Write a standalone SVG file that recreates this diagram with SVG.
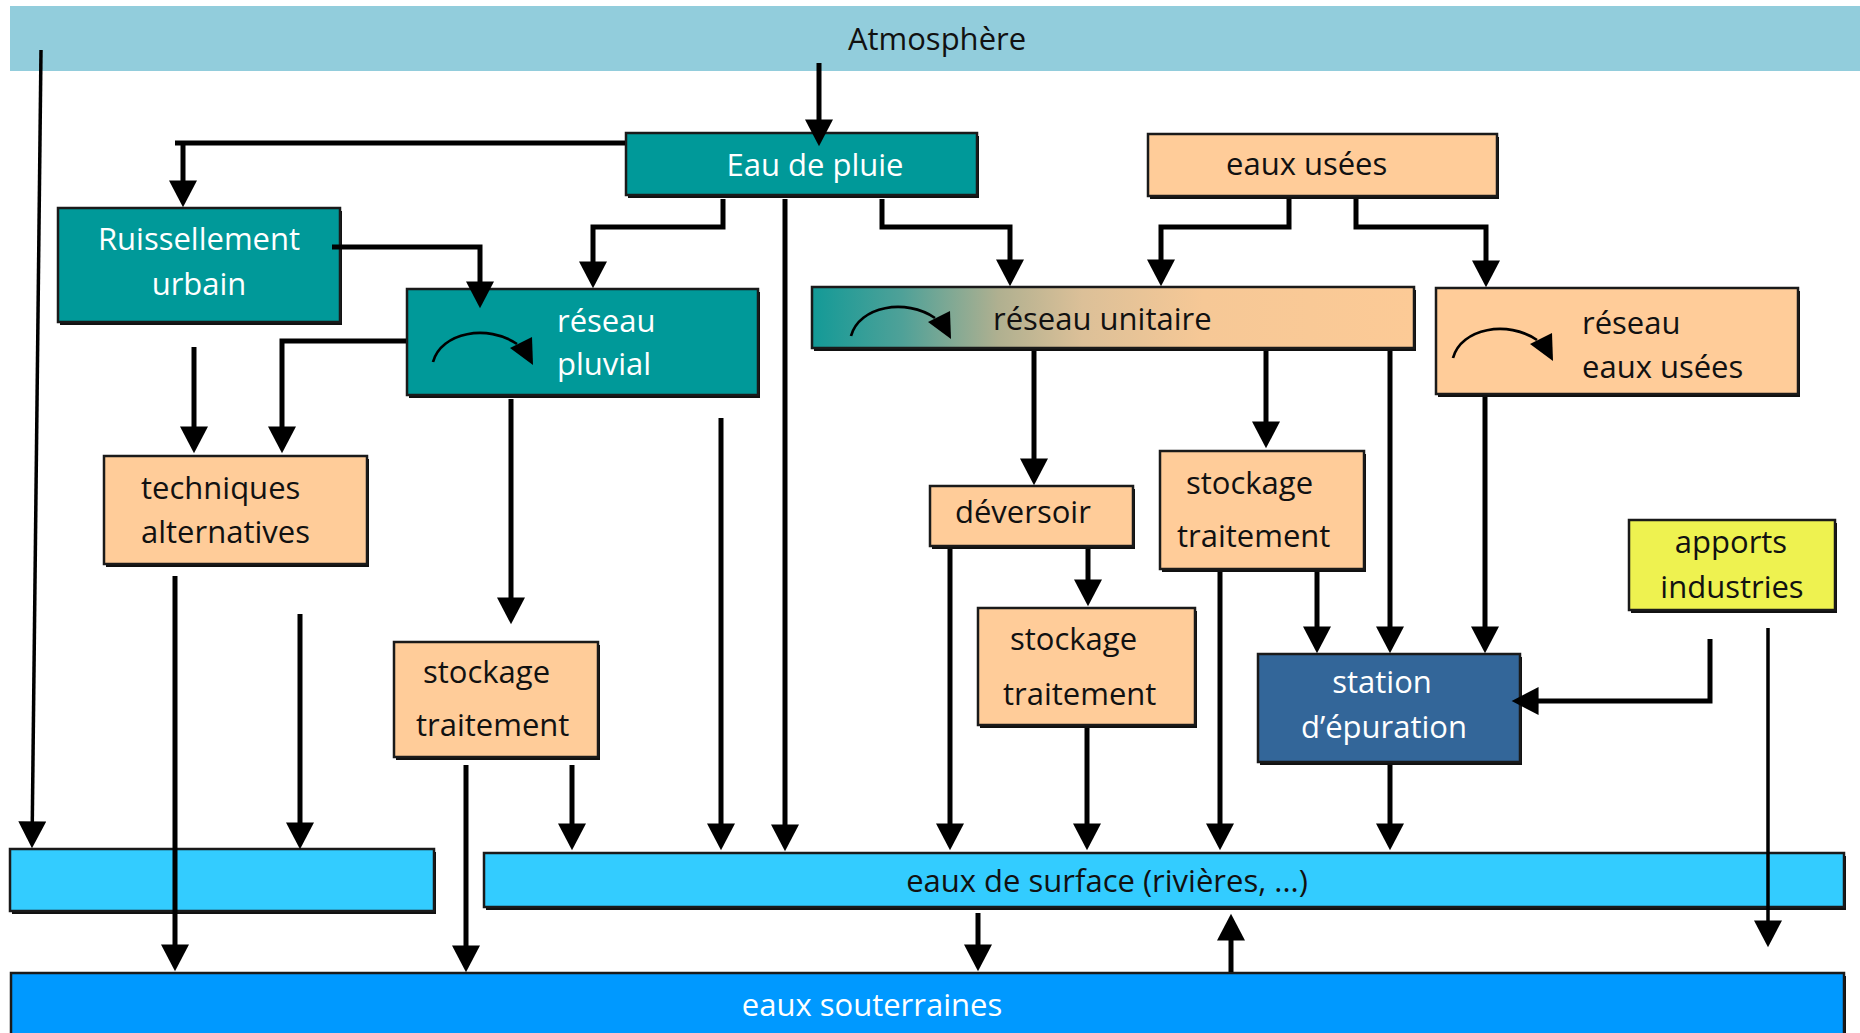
<svg xmlns="http://www.w3.org/2000/svg" xmlns:xlink="http://www.w3.org/1999/xlink" width="1860" height="1033" viewBox="0 0 1860 1033">
<style>
  text { font-family: "Open Sans", "Liberation Sans", sans-serif; font-size: 31px; fill: #111; }
  .w { fill: #ffffff; }
  .m { text-anchor: middle; }
  .sh { fill: #111; }
  .bx { stroke: #1a1a1a; stroke-width: 2.5; }
  .teal { fill: #009999; }
  .peach { fill: #FFCC99; }
  .yellow { fill: #EEF250; }
  .navy { fill: #336699; }
  .lblue { fill: #33CCFF; }
  .dblue { fill: #0099FF; }
  .cn path { fill: none; stroke: #000; stroke-width: 5; stroke-linejoin: miter; }
  .cn .a { marker-end: url(#ah); }
  .rot path.arc { fill: none; stroke: #000; stroke-width: 2.7; }
</style>
<defs>
  <marker id="ah" markerUnits="userSpaceOnUse" markerWidth="28" markerHeight="28" viewBox="0 0 26 27" refX="16" refY="13.5" orient="auto">
    <path d="M0,0 L26,13.5 L0,27 z" fill="#000"/>
  </marker>
  <linearGradient id="grad" x1="0" y1="0" x2="1" y2="0">
    <stop offset="0" stop-color="#139A97"/>
    <stop offset="0.15" stop-color="#4FA198"/>
    <stop offset="0.31" stop-color="#B0B090"/>
    <stop offset="0.45" stop-color="#DCC098"/>
    <stop offset="0.65" stop-color="#F6C896"/>
    <stop offset="1" stop-color="#FCCA96"/>
  </linearGradient>
  <g id="rot" class="rot">
    <path class="arc" d="M0,0 C8,-30 55,-38 84,-18"/>
    <path d="M77,-14 L99,-25 L100,3 z" fill="#000"/>
  </g>
</defs>

<rect width="1860" height="1033" fill="#ffffff"/>

<g id="atmosphere">
  <rect x="10" y="6" width="1850" height="65" fill="#92CDDC"/>
  <text x="937" y="50" class="m">Atmosphère</text>
</g>

<g id="eau-de-pluie">
  <rect class="sh" x="628" y="136" width="351" height="62"/>
  <rect class="bx teal" x="626" y="133" width="351" height="62"/>
  <text x="815" y="176" class="m w">Eau de pluie</text>
</g>

<g id="eaux-usees">
  <rect class="sh" x="1150" y="137" width="349" height="62"/>
  <rect class="bx peach" x="1148" y="134" width="349" height="62"/>
  <text x="1226" y="175">eaux usées</text>
</g>

<g id="ruissellement">
  <rect class="sh" x="60" y="211" width="282" height="114"/>
  <rect class="bx teal" x="58" y="208" width="282" height="114"/>
  <text x="199" y="250" class="m w">Ruissellement</text>
  <text x="199" y="295" class="m w">urbain</text>
</g>

<g id="reseau-pluvial">
  <rect class="sh" x="409" y="292" width="351" height="106"/>
  <rect class="bx teal" x="407" y="289" width="351" height="106"/>
  <use xlink:href="#rot" href="#rot" x="433" y="362"/>
  <text x="557" y="332" class="w">réseau</text>
  <text x="557" y="375" class="w">pluvial</text>
</g>

<g id="reseau-unitaire">
  <rect class="sh" x="814" y="290" width="602" height="61"/>
  <rect class="bx" x="812" y="287" width="602" height="61" fill="url(#grad)"/>
  <use xlink:href="#rot" href="#rot" x="851" y="336"/>
  <text x="993" y="330">réseau unitaire</text>
</g>

<g id="reseau-eaux-usees">
  <rect class="sh" x="1438" y="291" width="362" height="106"/>
  <rect class="bx peach" x="1436" y="288" width="362" height="106"/>
  <use xlink:href="#rot" href="#rot" x="1453" y="358"/>
  <text x="1582" y="334">réseau</text>
  <text x="1582" y="378">eaux usées</text>
</g>

<g id="techniques-alternatives">
  <rect class="sh" x="106" y="459" width="263" height="108"/>
  <rect class="bx peach" x="104" y="456" width="263" height="108"/>
  <text x="141" y="499">techniques</text>
  <text x="141" y="543">alternatives</text>
</g>

<g id="stockage-traitement-1">
  <rect class="sh" x="396" y="645" width="204" height="115"/>
  <rect class="bx peach" x="394" y="642" width="204" height="115"/>
  <text x="423" y="683">stockage</text>
  <text x="416" y="736">traitement</text>
</g>

<g id="deversoir">
  <rect class="sh" x="932" y="489" width="203" height="60"/>
  <rect class="bx peach" x="930" y="486" width="203" height="60"/>
  <text x="955" y="523">déversoir</text>
</g>

<g id="stockage-traitement-2">
  <rect class="sh" x="1162" y="454" width="204" height="118"/>
  <rect class="bx peach" x="1160" y="451" width="204" height="118"/>
  <text x="1186" y="494">stockage</text>
  <text x="1177" y="547">traitement</text>
</g>

<g id="stockage-traitement-3">
  <rect class="sh" x="980" y="611" width="217" height="117"/>
  <rect class="bx peach" x="978" y="608" width="217" height="117"/>
  <text x="1010" y="650">stockage</text>
  <text x="1003" y="705">traitement</text>
</g>

<g id="station-epuration">
  <rect class="sh" x="1260" y="657" width="262" height="108"/>
  <rect class="bx navy" x="1258" y="654" width="262" height="108"/>
  <text x="1382" y="693" class="m w">station</text>
  <text x="1384" y="738" class="m w">d’épuration</text>
</g>

<g id="apports-industries">
  <rect class="sh" x="1631" y="523" width="206" height="90"/>
  <rect class="bx yellow" x="1629" y="520" width="206" height="90"/>
  <text x="1731" y="553" class="m">apports</text>
  <text x="1732" y="598" class="m">industries</text>
</g>

<g id="sol">
  <rect class="sh" x="12" y="852" width="424" height="62"/>
  <rect class="bx lblue" x="10" y="849" width="424" height="62"/>
</g>

<g id="eaux-de-surface">
  <rect class="sh" x="486" y="856" width="1360" height="54"/>
  <rect class="bx lblue" x="484" y="853" width="1360" height="54"/>
  <text x="1107" y="892" class="m">eaux de surface (rivières, ...)</text>
</g>

<g id="eaux-souterraines">
  <rect class="sh" x="13" y="976" width="1833" height="70"/>
  <rect class="bx dblue" x="11" y="973" width="1833" height="70"/>
  <text x="872" y="1016" class="m w">eaux souterraines</text>
</g>

<g id="connectors" class="cn">
  <path class="a" d="M819,63 V136"/>
  <path d="M625,143 H175"/>
  <path class="a" d="M183,143 V197"/>
  <path class="a" d="M332,247 H480 V298"/>
  <path class="a" d="M723,199 V227 H593 V278"/>
  <path class="a" d="M882,199 V227 H1010 V276"/>
  <path class="a" d="M1289,199 V227 H1161 V276"/>
  <path class="a" d="M1356,199 V227 H1486 V277"/>
  <path class="a" d="M785,199 V841"/>
  <path class="a" d="M41,50 L32.1,838" style="stroke-width:3.5"/>
  <path class="a" d="M406,341 H282 V443"/>
  <path class="a" d="M194,347 V443"/>
  <path class="a" d="M511,399 V614"/>
  <path class="a" d="M721,418 V840"/>
  <path class="a" d="M175,576 V961"/>
  <path class="a" d="M300,614 V839"/>
  <path class="a" d="M466,765 V962"/>
  <path class="a" d="M572,765 V840"/>
  <path class="a" d="M950,549 V840"/>
  <path class="a" d="M1034,351 V475"/>
  <path class="a" d="M1088,549 V596"/>
  <path class="a" d="M1087,728 V840"/>
  <path class="a" d="M1266,351 V438"/>
  <path class="a" d="M1220,572 V840"/>
  <path class="a" d="M1317,572 V643"/>
  <path class="a" d="M1390,351 V643"/>
  <path class="a" d="M1485,397 V643"/>
  <path class="a" d="M1710,639 V701 H1522"/>
  <path class="a" d="M1768,628 V937" style="stroke-width:3.5"/>
  <path class="a" d="M1390,765 V840"/>
  <path class="a" d="M978,913 V961"/>
  <path class="a" d="M1231,972 V924"/>
</g>
</svg>
